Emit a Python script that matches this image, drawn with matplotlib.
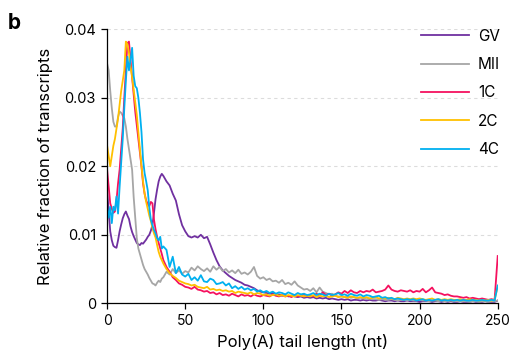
import numpy as np
import matplotlib
matplotlib.use("Agg")
import matplotlib.pyplot as plt

plt.rcParams['font.family'] = ['Inter', 'DejaVu Sans']

# ---------------- data (fraction x 1000) ----------------
# tail length grid: every nt up to 35, then every 2 nt
length_nt = np.concatenate([np.arange(0, 36), np.arange(36, 251, 2)])

gv = [16.5, 13.5, 10.5, 9.2, 8.4, 8.2, 8.1, 9.2, 10.5, 11.5, 12.4, 13.0, 13.4, 12.8, 12.3, 11.2,
      10.4, 9.8, 9.3, 8.8, 8.6, 8.5, 8.8, 8.7, 9.0, 9.3, 9.7, 10.0, 10.6, 11.4, 13.2, 15.2,
      16.6, 17.8, 18.5, 18.9,
      18.6, 17.8, 17.2, 16.0, 15.0, 13.0, 11.4, 10.5, 9.8, 9.6, 9.8, 9.6, 10.0, 9.5, 9.7, 8.6,
      7.4, 6.3, 5.4, 4.8, 4.4, 4.0, 3.7, 3.4, 3.2, 3.0, 2.7, 2.6, 2.4, 2.2, 1.9, 1.7,
      1.6, 1.5, 1.4, 1.5, 1.2, 1.3, 1.1, 1.2, 1.0, 1.1, 1.0, 0.9, 1.0, 0.8, 0.9, 0.8,
      0.9, 0.7, 0.8, 0.7, 0.8, 0.6, 0.7, 0.6, 0.5, 0.6, 0.5, 0.6, 0.4, 0.5, 0.5, 0.4,
      0.5, 0.4, 0.5, 0.4, 0.4, 0.5, 0.4, 0.3, 0.4, 0.4, 0.3, 0.4, 0.3, 0.3, 0.4, 0.3,
      0.3, 0.3, 0.2, 0.3, 0.3, 0.3, 0.2, 0.3, 0.3, 0.2, 0.3, 0.2, 0.3, 0.2, 0.2, 0.3,
      0.2, 0.2, 0.2, 0.3, 0.2, 0.2, 0.2, 0.3, 0.2, 0.2, 0.2, 0.4]

mii = [35.0, 34.0, 31.0, 28.5, 26.5, 25.8, 25.8, 27.2, 28.0, 27.8, 27.4, 27.0, 25.8, 24.0, 22.5, 21.0,
       19.5, 15.5, 12.5, 9.5, 8.0, 7.2, 6.4, 5.6, 5.0, 4.6, 4.2, 3.7, 3.3, 2.9, 2.8, 2.6,
       3.0, 3.3, 3.1, 3.6,
       3.8, 4.6, 4.2, 5.0, 4.4, 4.8, 4.3, 4.7, 4.5, 5.2, 4.8, 5.4, 5.0, 4.7, 5.1, 4.6,
       5.4, 4.9, 5.3, 4.7, 5.0, 4.5, 4.8, 4.4, 4.9, 4.3, 4.5, 4.2, 4.6, 5.3, 4.0, 3.6,
       3.8, 3.4, 3.6, 3.2, 3.3, 3.0, 3.4, 2.8, 3.0, 2.7, 3.2, 2.6, 2.3, 2.0, 2.1, 1.8,
       2.2, 1.6, 2.3, 1.7, 1.5, 1.3, 1.4, 1.1, 1.0, 1.0, 0.9, 1.0, 0.8, 0.9, 0.7, 0.8,
       0.7, 0.6, 0.7, 0.6, 0.6, 0.5, 0.6, 0.5, 0.5, 0.6, 0.5, 0.4, 0.5, 0.5, 0.4, 0.5,
       0.4, 0.4, 0.5, 0.4, 0.4, 0.3, 0.4, 0.4, 0.3, 0.4, 0.3, 0.3, 0.4, 0.3, 0.3, 0.3,
       0.3, 0.3, 0.2, 0.3, 0.3, 0.2, 0.3, 0.3, 0.2, 0.3, 0.3, 0.4]

c1 = [19.5, 17.0, 14.6, 13.8, 13.2, 13.4, 15.0, 17.5, 19.5, 22.5, 25.5, 30.0, 34.0, 38.0, 38.2, 35.5,
      33.0, 30.5, 28.0, 26.0, 24.0, 22.0, 20.0, 17.5, 16.0, 15.0, 14.5, 14.2, 14.8, 14.6, 12.2, 10.8,
      9.7, 8.8, 8.0, 7.2,
      6.3, 5.3, 4.6, 3.8, 3.4, 2.9, 2.7, 2.4, 2.3, 2.1, 2.4, 2.0, 1.9, 1.7, 1.8, 1.5,
      1.6, 1.3, 1.5, 1.2, 1.3, 1.1, 1.4, 1.2, 1.0, 1.3, 1.1, 1.2, 1.0, 1.3, 1.1, 1.0,
      1.2, 1.1, 1.0, 1.3, 1.1, 1.0, 1.2, 1.0, 1.1, 0.9, 1.2, 1.0, 1.1, 1.3, 1.0, 1.2,
      1.0, 1.4, 1.1, 1.6, 1.2, 1.4, 1.1, 1.3, 1.6, 1.4, 1.8, 1.5, 1.9, 1.6, 1.5, 1.8,
      1.6, 1.8, 1.7, 2.0, 1.6, 1.7, 1.8, 2.0, 2.6, 2.0, 1.8, 1.7, 1.9, 1.8, 1.7, 1.9,
      1.6, 1.8, 1.7, 2.1, 1.6, 1.9, 2.3, 1.6, 1.5, 1.4, 1.2, 1.3, 1.1, 1.0, 1.0, 0.9,
      0.8, 0.9, 0.7, 0.8, 0.7, 0.6, 0.7, 0.6, 0.5, 0.6, 0.5, 6.9]

c2 = [23.0, 21.5, 20.0, 21.5, 23.0, 24.0, 25.5, 27.0, 29.0, 31.0, 32.5, 34.0, 38.2, 37.8, 36.5, 34.5,
      33.0, 31.2, 29.5, 27.5, 25.0, 22.5, 20.0, 17.8, 16.0, 14.8, 13.8, 12.8, 12.0, 11.0, 10.2, 9.6,
      8.5, 7.5, 6.8, 6.3,
      5.8, 5.0, 4.4, 4.0, 3.7, 3.3, 3.1, 2.9, 2.8, 2.6, 2.7, 2.4, 2.3, 2.2, 2.4, 2.0,
      2.1, 1.9, 2.0, 1.8, 1.9, 1.7, 1.8, 1.5, 1.7, 1.6, 1.5, 1.4, 1.6, 1.3, 1.5, 1.4,
      1.2, 1.3, 1.1, 1.2, 1.3, 1.1, 1.2, 1.0, 1.2, 1.1, 1.0, 1.2, 1.1, 1.0, 1.1, 1.0,
      1.2, 0.9, 1.1, 1.0, 1.1, 0.9, 1.0, 1.1, 0.9, 1.0, 0.9, 0.8, 1.0, 0.9, 0.8, 0.9,
      0.8, 0.9, 0.7, 0.8, 0.9, 0.7, 0.8, 0.7, 0.8, 0.7, 0.6, 0.8, 0.7, 0.6, 0.7, 0.6,
      0.7, 0.6, 0.7, 0.6, 0.5, 0.6, 0.7, 0.5, 0.6, 0.5, 0.6, 0.5, 0.6, 0.5, 0.5, 0.6,
      0.5, 0.5, 0.6, 0.5, 0.5, 0.4, 0.5, 0.4, 0.5, 0.4, 0.5, 2.5]

c4 = [14.0, 12.5, 14.1, 11.7, 14.1, 13.6, 15.6, 13.1, 17.0, 20.5, 24.0, 28.5, 32.5, 36.0, 34.0, 35.5,
      37.3, 33.2, 31.7, 31.4, 30.0, 27.8, 25.0, 21.0, 19.0, 17.8, 16.5, 14.0, 12.2, 11.4, 10.7, 10.2,
      9.5, 9.2, 9.7, 8.0,
      8.3, 7.8, 5.3, 6.8, 4.4, 5.3, 4.2, 3.9, 4.3, 3.4, 3.8, 3.3, 4.1, 3.2, 3.1, 3.6,
      3.4, 2.8, 2.9, 3.1, 2.6, 2.9, 2.2, 2.5, 2.1, 2.4, 2.0, 2.2, 1.9, 2.1, 1.7, 1.9,
      1.6, 1.8, 1.5, 1.7, 1.4, 1.6, 1.5, 1.3, 1.6, 1.4, 1.2, 1.5, 1.3, 1.4, 1.2, 1.3,
      1.5, 1.2, 1.4, 1.3, 1.1, 1.4, 1.2, 1.3, 1.5, 1.2, 1.3, 1.1, 1.4, 1.2, 1.1, 1.3,
      1.0, 1.2, 1.1, 0.9, 1.0, 1.1, 0.8, 0.9, 0.7, 0.8, 0.6, 0.7, 0.6, 0.5, 0.6, 0.5,
      0.6, 0.4, 0.5, 0.6, 0.4, 0.5, 0.4, 0.5, 0.6, 0.4, 0.5, 0.4, 0.5, 0.4, 0.5, 0.4,
      0.5, 0.4, 0.4, 0.5, 0.4, 0.4, 0.5, 0.4, 0.4, 0.5, 0.4, 2.6]

series = {'GV': gv, 'MII': mii, '1C': c1, '2C': c2, '4C': c4}
colors = {'GV': '#7030A0', 'MII': '#A6A6A6', '1C': '#F5115F', '2C': '#FFC000', '4C': '#00B0F0'}

# ---------------- plot ----------------
fig = plt.figure(figsize=(5.12, 3.59), dpi=100)
ax = fig.add_axes([0.2092, 0.1552, 0.7629, 0.7632])

for name, vals in series.items():
    ax.plot(length_nt, np.array(vals) / 1000, color=colors[name], lw=1.3, label=name)

ax.set_xlim(0, 250)
ax.set_ylim(0, 0.04)
ax.set_xticks([0, 50, 100, 150, 200, 250])
ax.set_yticks([0, 0.01, 0.02, 0.03, 0.04])
ax.set_yticklabels(['0', '0.01', '0.02', '0.03', '0.04'])
ax.yaxis.grid(True, ls=(0, (3, 3)), color='#dcdcdc', lw=0.8)
ax.set_axisbelow(True)

for s in ['top', 'right']:
    ax.spines[s].set_visible(False)
for s in ['left', 'bottom']:
    ax.spines[s].set_linewidth(0.9)
ax.tick_params(direction='out', length=4, width=0.9, labelsize=10, pad=4)
ax.tick_params(axis='y', labelsize=10.5)

ax.set_xlabel('Poly(A) tail length (nt)', fontsize=12, labelpad=4)
ax.set_ylabel('Relative fraction of transcripts', fontsize=12, labelpad=8)

ax.legend(loc='upper right', bbox_to_anchor=(1.041, 1.052), frameon=False, fontsize=11,
          handlelength=3.15, handletextpad=0.55, labelspacing=0.87)

fig.text(0.015, 0.965, 'b', fontsize=15, fontweight='bold', va='top', ha='left')

fig.savefig('out.png', dpi=100)
